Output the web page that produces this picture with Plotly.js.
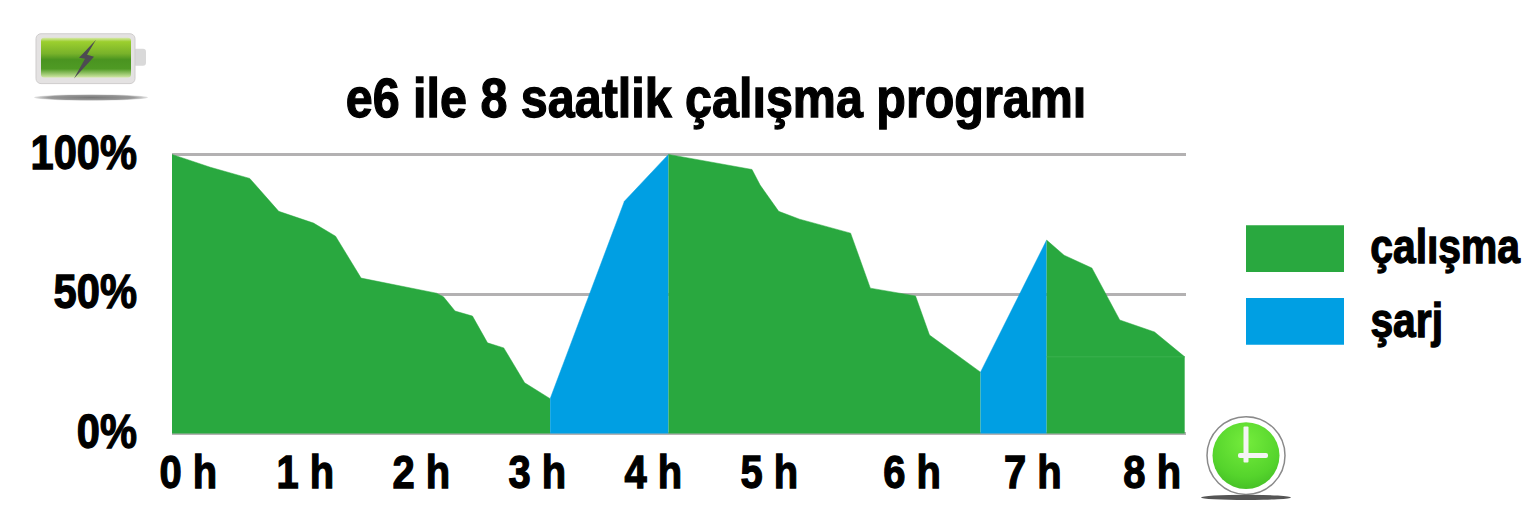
<!DOCTYPE html>
<html><head><meta charset="utf-8">
<script src="https://cdn.plot.ly/plotly-3.0.1.min.js"></script>
<style>html,body{margin:0;padding:0;background:#fff;overflow:hidden}
#c text{stroke:#000;stroke-width:1.3px}</style>
</head><body><div id="c" style="width:1538px;height:524px"></div>
<script>
// hours are read along the plotted axis; battery in percent
const work1H=[0,0.33,0.67,0.92,1.22,1.41,1.63,2.28,2.34,2.44,2.59,2.72,2.86,3.04,3.26];
const work1B=[100,95.4,91.4,79.6,75.4,70.7,55.7,50.3,49,43.9,42.1,32.5,30.7,18.2,12.5];
const charge1H=[3.26,3.9,4.28];
const charge1B=[12.5,83.2,100];
const work2H=[4.28,5,5.07,5.23,5.41,5.85,6.02,6.41,6.53,6.97];
const work2B=[100,94.6,89,79.6,76.8,71.8,52.1,49.3,35.3,22];
const charge2H=[6.97,7.54];
const charge2B=[22,69.3];
const work3H=[7.54,7.69,7.93,8.17,8.47,8.73];
const work3B=[69.3,63.9,59.3,40.7,36.4,27.5];
const seamH=[7.54,8.73];
const seamB=[27.5,27.5];
const tickH=[0.14,1.15,2.15,3.15,4.15,5.15,6.38,7.42,8.45];
const tickLabels=['0 h','1 h','2 h','3 h','4 h','5 h','6 h','7 h','8 h'];
const yTicks=[0,50,100];
const yLabels=['0%','50%','100%'];
const titleText='e6 ile 8 saatlik çalışma programı';
const legendNames=['çalışma','şarj'];
const GREEN='#29a83f',BLUE='#009fe3',GRID='#b3b1b2';
const FONT='"Liberation Sans",Arial,sans-serif';
const L=172,T=152.6,W=1014,H=282.8;
const px=x=>(x-L)/W, py=y=>1-(y-T)/H;
const area=(x,y,c,n)=>({type:'scatter',x:x,y:y,name:n,mode:'lines',line:{color:c,width:0.5},fill:'tozeroy',fillcolor:c,hoverinfo:'x+y',showlegend:false});
const data=[area(work1H,work1B,GREEN,legendNames[0]),area(charge1H,charge1B,BLUE,legendNames[1]),area(work2H,work2B,GREEN,legendNames[0]),area(charge2H,charge2B,BLUE,legendNames[1]),area(work3H,work3B,GREEN,legendNames[0]),
{type:'scatter',x:seamH,y:seamB,mode:'lines',line:{color:'#3bb04f',width:1},hoverinfo:'skip',showlegend:false}];
const battery='data:image/svg+xml,'+encodeURIComponent(`<svg xmlns="http://www.w3.org/2000/svg" width="116" height="72" viewBox="0 0 116 72"><defs><linearGradient id="g" x1="0" y1="0" x2="0" y2="1"><stop offset="0" stop-color="#d6e8a8"/><stop offset=".1" stop-color="#9ccf2e"/><stop offset=".4" stop-color="#78b22a"/><stop offset=".55" stop-color="#4a9420"/><stop offset=".78" stop-color="#4f9a24"/><stop offset="1" stop-color="#d2e8a6"/></linearGradient><radialGradient id="s"><stop offset="0" stop-color="#777"/><stop offset=".75" stop-color="#999"/><stop offset="1" stop-color="#e5e5e5"/></radialGradient></defs><rect x="100" y="18" width="13" height="17" rx="3" fill="#d9d9d9"/><rect x="3" y="3" width="99" height="50" rx="5" fill="#e4e2e2" stroke="#cfcdcd"/><rect x="8" y="7" width="90" height="40" rx="3" fill="url(#g)"/><path d="M63 9 L46 27 L52 28 L41 48 L61 26 L54 24 Z" fill="#4d4a52"/><ellipse cx="58" cy="67" rx="57" ry="3.2" fill="url(#s)"/></svg>`);
const clock='data:image/svg+xml,'+encodeURIComponent(`<svg xmlns="http://www.w3.org/2000/svg" width="92" height="88" viewBox="0 0 92 88"><defs><radialGradient id="r" cx=".5" cy=".3" r=".8"><stop offset="0" stop-color="#74ec3c"/><stop offset=".65" stop-color="#55d42c"/><stop offset="1" stop-color="#3fb824"/></radialGradient></defs><circle cx="45" cy="42" r="39" fill="#fff" stroke="#8a8a8a" stroke-width="1.5"/><circle cx="45" cy="42" r="33.5" fill="url(#r)"/><rect x="42.5" y="13" width="5" height="36" rx="1" fill="#f4f4f4"/><rect x="37" y="39.5" width="30" height="5" rx="2" fill="#f4f4f4"/><ellipse cx="45" cy="84" rx="45" ry="2.6" fill="#555"/></svg>`);
const layout={width:1538,height:524,margin:{l:L,r:1538-L-W,t:T,b:524-T-H,pad:0},paper_bgcolor:'#fff',plot_bgcolor:'#fff',showlegend:false,
title:{text:titleText,x:716/1538,xanchor:'center',xref:'container',y:1-97/524,yref:'container',yanchor:'middle',font:{family:FONT,size:56,color:'#000',weight:700}},
xaxis:{range:[0,W/116],tickmode:'array',tickvals:tickH,ticktext:tickLabels,showgrid:false,zeroline:false,showline:false,ticks:'',ticklabelstandoff:5,tickfont:{family:FONT,size:47,color:'#000',weight:700}},
yaxis:{range:[-0.5,100.5],tickmode:'array',tickvals:yTicks,ticktext:yLabels,showgrid:true,gridcolor:GRID,gridwidth:3,zeroline:false,showline:false,ticks:'',ticklabelstandoff:34,tickfont:{family:FONT,size:49,color:'#000',weight:700}},
shapes:[{type:'rect',xref:'paper',yref:'paper',x0:px(1246),x1:px(1344),y0:py(272),y1:py(225),fillcolor:GREEN,line:{width:0}},
{type:'rect',xref:'paper',yref:'paper',x0:px(1246),x1:px(1344),y0:py(345),y1:py(298),fillcolor:BLUE,line:{width:0}}],
annotations:[{xref:'paper',yref:'paper',x:px(1445),y:py(246),xanchor:'center',yanchor:'middle',showarrow:false,text:legendNames[0],font:{family:FONT,size:48,color:'#000',weight:700}},
{xref:'paper',yref:'paper',x:px(1406),y:py(321),xanchor:'center',yanchor:'middle',showarrow:false,text:legendNames[1],font:{family:FONT,size:48,color:'#000',weight:700}}],
images:[{source:battery,xref:'paper',yref:'paper',x:px(33),y:py(30),sizex:116/W,sizey:72/H,sizing:'stretch',xanchor:'left',yanchor:'top',layer:'above'},
{source:clock,xref:'paper',yref:'paper',x:px(1201),y:py(414),sizex:92/W,sizey:88/H,sizing:'stretch',xanchor:'left',yanchor:'top',layer:'above'}]};
Plotly.newPlot('c',data,layout,{displayModeBar:false,responsive:false}).then(()=>{
  // the reference face is condensed: narrow the real text glyphs
  document.querySelectorAll('#c svg text').forEach(t=>{
    if(!t.textContent.trim())return;
    if(t.classList.contains('annotation-text')){
      t.style.transformBox='fill-box';t.style.transformOrigin='center';t.style.transform='scaleX(0.85)';
      return;
    }
    const w=t.getComputedTextLength();
    const k=t.classList.contains('gtitle')?0.865:0.85;
    t.setAttribute('lengthAdjust','spacingAndGlyphs');
    t.setAttribute('textLength',(w*k).toFixed(1));
  });
  document.querySelectorAll('#c .ytick text').forEach(t=>t.setAttribute('dy','-3'));
});
</script></body></html>
